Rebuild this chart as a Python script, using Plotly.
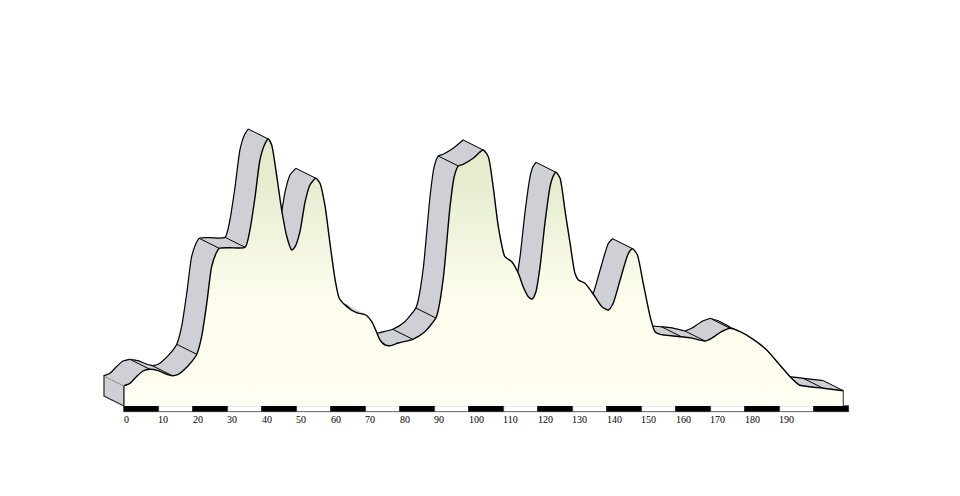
import plotly.graph_objects as go

km = [0, 1.7, 3.6, 5.5, 7.5, 9.9, 12.4, 14.0, 15.7, 18.6, 21.1, 22.5, 24.0, 25.4, 26.7, 27.6, 30.7, 35.1, 36.5, 38.0, 39.4,
      40.7, 41.8, 42.8, 44.3, 45.7, 47.2, 48.6, 49.6, 51.0, 52.5, 53.9, 55.6, 56.8, 58.3, 59.7, 61.2, 62.4, 64.6, 67.4,
      70.1, 71.8, 73.2, 74.2, 75.7, 77.1, 79.5, 83.7, 87.2, 90.4, 91.1, 92.6, 94.5, 95.7, 96.9, 98.3, 101.2, 104.1,
      105.6, 107.0, 108.5, 110.4, 112.4, 114.3, 115.7, 117.2, 118.3, 119.4, 120.6, 122.0, 123.5, 124.3, 125.2, 126.4, 127.8,
      129.3, 130.7, 131.7, 133.6, 136.2, 138.5, 140.4, 141.8, 143.8, 146.2, 147.4, 148.8, 150.5, 152.5, 153.9, 155.4,
      159.2, 161.6, 164.1, 168.4, 170.3, 173.2, 175.7, 178.6, 182.4, 186.3, 190.1, 193.5, 195.7, 198.8, 202.7, 208.5]
elevation = [203, 227, 293, 350, 367, 353, 317, 303, 317, 403, 517, 693, 1030, 1393, 1527, 1577, 1583, 1587, 1760, 2093, 2460,
             2610, 2670, 2610, 2293, 1960, 1693, 1560, 1593, 1743, 2043, 2210, 2277, 2227, 1993, 1627, 1260, 1077, 993, 933,
             910, 843, 740, 660, 610, 603, 630, 667, 743, 880, 960, 1293, 1993, 2293, 2400, 2417, 2477, 2560,
             2493, 2193, 1793, 1493, 1443, 1327, 1193, 1093, 1070, 1143, 1393, 1827, 2193, 2290, 2337, 2277, 1960,
             1627, 1327, 1260, 1227, 1110, 993, 960, 1027, 1260, 1527, 1573, 1510, 1227, 893, 743, 717,
             700, 692, 683, 650, 677, 743, 777, 743, 667, 560, 410, 277, 210, 193, 177, 153]
ridge_km = [7.5, 14.0, 21.1, 27.6, 35.1, 41.8, 55.6, 83.7, 90.4, 96.9, 104.1, 125.2, 147.4, 161.6, 168.4, 175.7, 202.7]
tick_km = list(range(0, 200, 10))
tick_labels = [str(v) for v in tick_km]
segment_km = list(range(0, 210, 10))

DX, DY = -5.8, 100
back_x = [v + DX for v in km]
back_y = [v + DY for v in elevation]
GREY = "#cfd0d6"
SMOOTH = 0.6

fig = go.Figure()


def quad(i):
    fig.add_trace(go.Scatter(x=[km[i], km[i + 1], back_x[i + 1], back_x[i], km[i]],
                             y=[elevation[i], elevation[i + 1], back_y[i + 1], back_y[i], elevation[i]],
                             mode="lines", fill="toself", fillcolor=GREY, line=dict(color=GREY, width=0.6),
                             hoverinfo="skip"))


def back_runs(rising):
    start = None
    for i in range(len(km)):
        ok = i < len(km) - 1 and (elevation[i + 1] >= elevation[i]) == rising
        if ok and start is None:
            start = i
        if not ok and start is not None:
            fig.add_trace(go.Scatter(x=back_x[start:i + 1], y=back_y[start:i + 1], mode="lines",
                                     line=dict(color="black", width=1.2, shape="spline", smoothing=SMOOTH),
                                     hoverinfo="skip"))
            start = None


# scale bar
fig.add_trace(go.Bar(x=[v + 5 for v in segment_km], y=[-60] * len(segment_km), width=10,
                     marker=dict(color=["black" if i % 2 == 0 else "white" for i in range(len(segment_km))],
                                 line=dict(color="#222", width=0.7)), hoverinfo="skip"))
# left end face
fig.add_trace(go.Scatter(x=[0, 0, DX, DX, 0], y=[0, elevation[0], elevation[0] + DY, DY, 0], mode="lines",
                         fill="toself", fillcolor=GREY, line=dict(color="#333", width=1.3), hoverinfo="skip"))
# ribbon: falling faces first, rising faces painted over them
for i in range(len(km) - 1):
    if elevation[i + 1] < elevation[i]:
        quad(i)
back_runs(False)
for i in range(len(km) - 1):
    if elevation[i + 1] >= elevation[i]:
        quad(i)
back_runs(True)
# ribbon cross lines
cx, cy = [], []
for r in ridge_km:
    e = elevation[km.index(r)]
    cx += [r, r + DX, None]
    cy += [e, e + DY, None]
fig.add_trace(go.Scatter(x=cx, y=cy, mode="lines", line=dict(color="black", width=1), hoverinfo="skip"))
# back line end
fig.add_trace(go.Scatter(x=[back_x[-1], km[-1]], y=[back_y[-1], elevation[-1]], mode="lines",
                         line=dict(color="black", width=1), hoverinfo="skip"))
# front face
fig.add_trace(go.Scatter(x=km, y=elevation, mode="lines", fill="tozeroy",
                         fillgradient=dict(type="vertical", start=0, stop=2670,
                                           colorscale=[[0, "#fffef2"], [0.43, "#fdfcec"], [0.8, "#e7eed2"], [1, "#e2ebc8"]]),
                         line=dict(color="black", width=1.4, shape="spline", smoothing=SMOOTH), hoverinfo="skip"))
# right end edge
fig.add_trace(go.Scatter(x=[km[-1], km[-1]], y=[0, elevation[-1]], mode="lines",
                         line=dict(color="#555", width=1.3), hoverinfo="skip"))
# left front edge
fig.add_trace(go.Scatter(x=[0, 0], y=[0, elevation[0]], mode="lines",
                         line=dict(color="#333", width=1.3), hoverinfo="skip"))

for t, lab in zip(tick_km, tick_labels):
    fig.add_annotation(x=t, y=-65, text=lab, showarrow=False, xanchor="left", yanchor="top", xshift=-1.5, borderpad=0,
                       font=dict(family="Liberation Serif", size=10, color="black"))

X0 = -124 / 3.45
fig.update_layout(width=960, height=496, autosize=False, margin=dict(l=0, r=0, t=0, b=0),
                  showlegend=False, paper_bgcolor="white", plot_bgcolor="white",
                  xaxis=dict(visible=False, range=[X0, X0 + 960 / 3.45]),
                  yaxis=dict(visible=False, range=[-900, 4060]), bargap=0)
fig.write_html("out.html", config={"displayModeBar": False},
               post_script="document.body.style.margin='0';document.documentElement.style.overflow='hidden';")
